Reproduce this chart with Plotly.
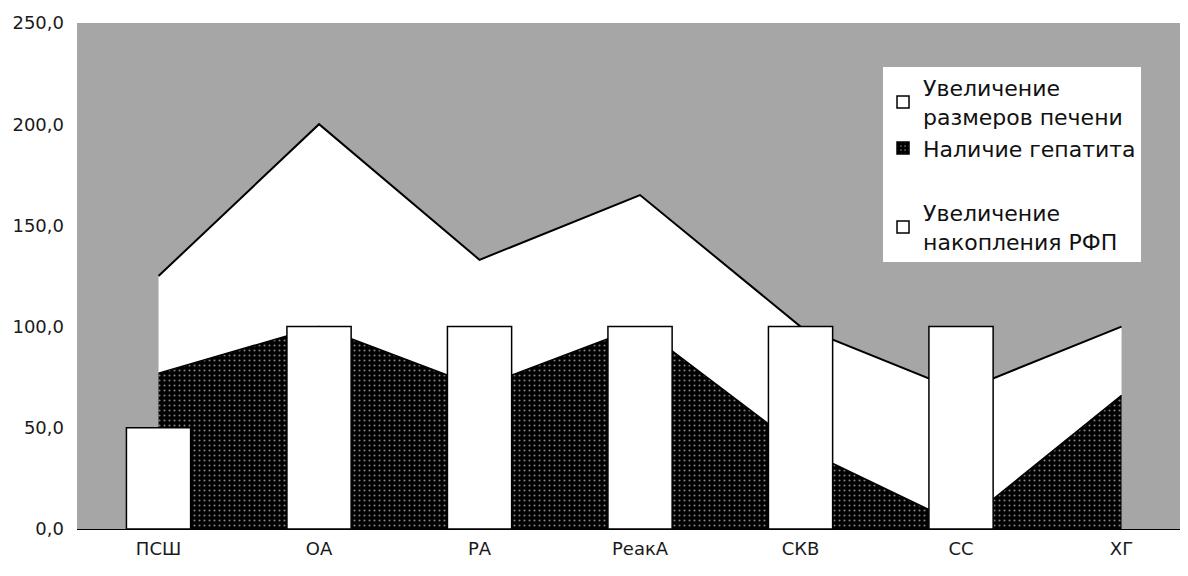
import plotly.graph_objects as go

categories = ["ПСШ", "ОА", "РА", "РеакА", "СКВ", "СС", "ХГ"]
hepatitis = [77, 100, 70, 100, 40, 2, 66]          # Наличие гепатита
liver_size = [48, 100, 63, 65, 60, 66, 34]         # Увеличение размеров печени (stacked on top)
rfp = [50, 100, 100, 100, 100, 100, None]          # Увеличение накопления РФП

y_ticks = [0, 50, 100, 150, 200, 250]

FONT = "DejaVu Sans"
HEP_PATTERN = dict(shape=".", bgcolor="black", fgcolor="white", size=5, solidity=0.14)

fig = go.Figure()

fig.add_trace(go.Scatter(
    x=categories, y=hepatitis, name="Наличие гепатита",
    stackgroup="a", mode="lines",
    line=dict(color="black", width=1.5),
    fillcolor="black", fillpattern=HEP_PATTERN,
    showlegend=False,
))
fig.add_trace(go.Scatter(
    x=categories, y=liver_size, name="Увеличение размеров печени",
    stackgroup="a", mode="lines",
    line=dict(color="black", width=2),
    fillcolor="white",
    showlegend=False,
))
fig.add_trace(go.Bar(
    x=categories, y=rfp, name="Увеличение<br>накопления РФП",
    marker=dict(color="white", line=dict(color="black", width=1.5)),
    width=0.4, xaxis="x2", yaxis="y2",
    legendrank=3, legendgroup="b",
))
# legend-only entries with square symbols for the area series
fig.add_trace(go.Bar(
    x=[None], y=[None], name="Увеличение<br>размеров печени",
    marker=dict(color="white", line=dict(color="black", width=1.5)),
    legendrank=1, legendgroup="a",
))
fig.add_trace(go.Bar(
    x=[None], y=[None], name="Наличие гепатита",
    marker=dict(color="black", line=dict(color="black", width=1.5),
                pattern=HEP_PATTERN),
    legendrank=2, legendgroup="a",
))

xr = [-0.508, 6.464]
fig.update_layout(
    width=1188, height=576,
    margin=dict(l=69, r=0, t=15, b=55),
    paper_bgcolor="white",
    plot_bgcolor="#a6a6a6",
    separators=", ",
    font=dict(family=FONT, size=18, color="#1a1a1a"),
    showlegend=True,
    legend=dict(
        x=0.7203, y=0.913, xanchor="left", yanchor="top",
        bgcolor="white", borderwidth=0,
        font=dict(family=FONT, size=22, color="#111"),
        traceorder="grouped", tracegroupgap=33,
    ),
    xaxis=dict(
        type="category", range=xr, showgrid=False, zeroline=False,
        showline=True, linecolor="black", linewidth=1,
        categoryarray=categories, categoryorder="array",
        ticks="", tickfont=dict(family=FONT, size=18, color="#1a1a1a"),
        ticklabelstandoff=3,
    ),
    yaxis=dict(
        range=[0, 250], tickvals=y_ticks, tickformat=".1f",
        showgrid=False, zeroline=False, showline=False, ticks="",
        tickfont=dict(family=FONT, size=18, color="#1a1a1a"),
        ticklabelstandoff=12,
    ),
    xaxis2=dict(type="category", range=xr, overlaying="x", visible=False,
                categoryarray=categories, categoryorder="array"),
    yaxis2=dict(range=[0, 250], overlaying="y", visible=False),
)

fig.write_html("out.html")
